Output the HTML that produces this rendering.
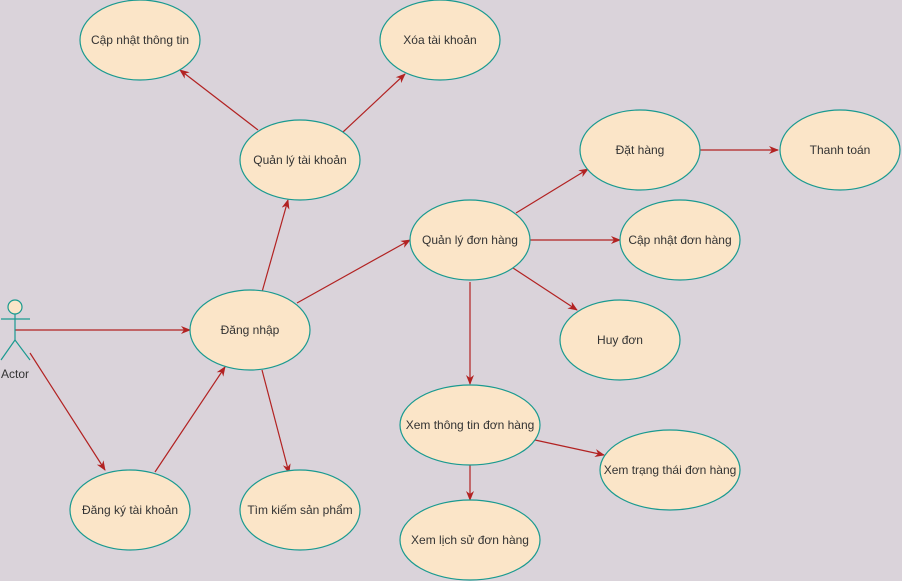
<!DOCTYPE html>
<html><head><meta charset="utf-8"><style>
html,body{margin:0;padding:0;background:#dad3da;}
svg{display:block}
text{font-family:"Liberation Sans",sans-serif;font-size:12px;fill:#333;text-anchor:middle;dominant-baseline:central}
</style></head><body>
<svg width="902" height="581" viewBox="0 0 902 581" xmlns="http://www.w3.org/2000/svg">
<defs><marker id="a" markerWidth="10" markerHeight="8" refX="9" refY="4" orient="auto" markerUnits="userSpaceOnUse"><path d="M0,0 L10,4 L0,8 L3,4 z" fill="#b22222"/></marker></defs>
<rect width="902" height="581" fill="#dad3da"/>
<g stroke="#b22222" stroke-width="1.2" fill="none" marker-end="url(#a)">
<line x1="15" y1="330" x2="190" y2="330"/>
<line x1="30" y1="353" x2="105" y2="470"/>
<line x1="155" y1="472" x2="225" y2="367"/>
<line x1="262" y1="292" x2="288" y2="200"/>
<line x1="258" y1="130" x2="180" y2="70"/>
<line x1="343" y1="132" x2="405" y2="74"/>
<line x1="297" y1="303" x2="410" y2="240"/>
<line x1="262" y1="370" x2="289" y2="473"/>
<line x1="516" y1="213" x2="588" y2="169"/>
<line x1="700" y1="150" x2="778" y2="150"/>
<line x1="530" y1="240" x2="620" y2="240"/>
<line x1="513" y1="268" x2="577" y2="310"/>
<line x1="470" y1="282" x2="470" y2="384"/>
<line x1="535" y1="440" x2="604" y2="455"/>
<line x1="470" y1="465" x2="470" y2="500"/>
</g>
<g fill="#fbe5c8" stroke="#1a9a90" stroke-width="1.2">
<ellipse cx="140" cy="40" rx="60" ry="40"/>
<ellipse cx="440" cy="40" rx="60" ry="40"/>
<ellipse cx="300" cy="160" rx="60" ry="40"/>
<ellipse cx="640" cy="150" rx="60" ry="40"/>
<ellipse cx="840" cy="150" rx="60" ry="40"/>
<ellipse cx="470" cy="240" rx="60" ry="40"/>
<ellipse cx="680" cy="240" rx="60" ry="40"/>
<ellipse cx="250" cy="330" rx="60" ry="40"/>
<ellipse cx="620" cy="340" rx="60" ry="40"/>
<ellipse cx="470" cy="425" rx="70" ry="40"/>
<ellipse cx="670" cy="470" rx="70" ry="40"/>
<ellipse cx="130" cy="510" rx="60" ry="40"/>
<ellipse cx="300" cy="510" rx="60" ry="40"/>
<ellipse cx="470" cy="540" rx="70" ry="40"/>
</g>
<g stroke="#1a9a90" stroke-width="1.2" fill="none">
<circle cx="15" cy="307" r="7" fill="#fbe5c8"/>
<line x1="15" y1="314" x2="15" y2="340"/>
<line x1="1" y1="319" x2="30" y2="319"/>
<line x1="15" y1="340" x2="1" y2="360"/>
<line x1="15" y1="340" x2="30" y2="360"/>
</g>
<text x="15" y="374">Actor</text>
<text x="140" y="40">Cập nhật thông tin</text>
<text x="440" y="40">Xóa tài khoản</text>
<text x="300" y="160">Quản lý tài khoản</text>
<text x="640" y="150">Đặt hàng</text>
<text x="840" y="150">Thanh toán</text>
<text x="470" y="240">Quản lý đơn hàng</text>
<text x="680" y="240">Cập nhật đơn hàng</text>
<text x="250" y="330">Đăng nhập</text>
<text x="620" y="340">Huy đơn</text>
<text x="470" y="425">Xem thông tin đơn hàng</text>
<text x="670" y="470">Xem trạng thái đơn hàng</text>
<text x="130" y="510">Đăng ký tài khoản</text>
<text x="300" y="510">Tìm kiếm sản phẩm</text>
<text x="470" y="540">Xem lịch sử đơn hàng</text>
</svg>
</body></html>
